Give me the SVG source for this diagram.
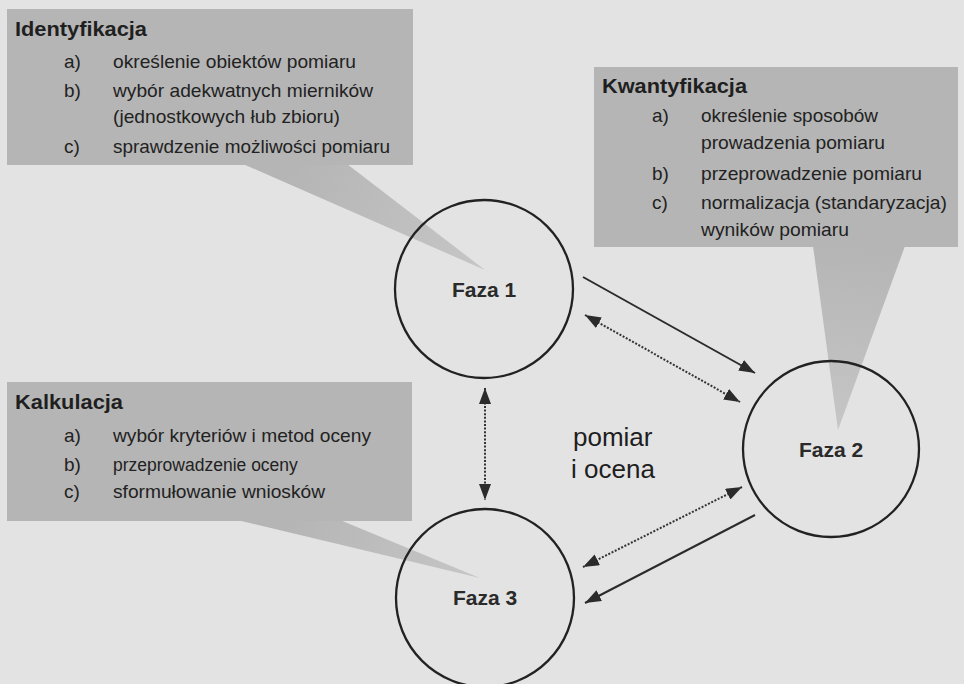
<svg xmlns="http://www.w3.org/2000/svg" width="964" height="684" viewBox="0 0 964 684">
  <defs>
    <style>
      .bg { fill: #e3e3e3; }
      .box { fill: #b5b5b5; }
      .title { font-family: "Liberation Sans", Arial, sans-serif; font-weight: bold; font-size: 21px; fill: #1f1f1f; }
      .item { font-family: "Liberation Sans", Arial, sans-serif; font-size: 19px; fill: #222; }
      .item-tight { font-size: 17.5px; }
      .phase { fill: none; stroke: #222; stroke-width: 2.3; }
      .phase-label { font-family: "Liberation Sans", Arial, sans-serif; font-weight: bold; font-size: 21px; fill: #2a2a2a; }
      .flow { fill: none; stroke: #2b2b2b; stroke-width: 2; }
      .flow-dot { fill: none; stroke: #333; stroke-width: 2; stroke-dasharray: 2 1.6; }
      .note { font-family: "Liberation Sans", Arial, sans-serif; font-size: 26px; fill: #1e1e1e; }
    </style>
    <marker id="head" viewBox="0 0 16 12" refX="16" refY="6" markerWidth="16" markerHeight="12" markerUnits="userSpaceOnUse" orient="auto-start-reverse">
      <path d="M0,0 L16,6 L0,12 Z" fill="#2b2b2b"/>
    </marker>
    <linearGradient id="tail1" gradientUnits="userSpaceOnUse" x1="295" y1="165" x2="485" y2="270">
      <stop offset="0" stop-color="#b5b5b5"/>
      <stop offset="1" stop-color="#c6c6c6"/>
    </linearGradient>
    <linearGradient id="tail2" gradientUnits="userSpaceOnUse" x1="859" y1="247" x2="838" y2="430">
      <stop offset="0" stop-color="#b5b5b5"/>
      <stop offset="1" stop-color="#c6c6c6"/>
    </linearGradient>
    <linearGradient id="tail3" gradientUnits="userSpaceOnUse" x1="288" y1="521" x2="480" y2="578">
      <stop offset="0" stop-color="#b5b5b5"/>
      <stop offset="1" stop-color="#c6c6c6"/>
    </linearGradient>
  </defs>

  <rect class="bg" x="0" y="0" width="964" height="684"/>

  <!-- callout: Identyfikacja -->
  <g id="identyfikacja">
    <polygon points="243,164 347,164 485,270" fill="url(#tail1)"/>
    <rect class="box" x="7" y="9" width="406" height="156"/>
    <text class="title" x="15" y="36" textLength="132" lengthAdjust="spacingAndGlyphs">Identyfikacja</text>
    <text class="item" x="64" y="68">a)</text>
    <text class="item" x="113" y="68" textLength="243" lengthAdjust="spacingAndGlyphs">określenie obiektów pomiaru</text>
    <text class="item" x="64" y="97">b)</text>
    <text class="item" x="113" y="97" textLength="260" lengthAdjust="spacingAndGlyphs">wybór adekwatnych mierników</text>
    <text class="item" x="113" y="123" textLength="227" lengthAdjust="spacingAndGlyphs">(jednostkowych łub zbioru)</text>
    <text class="item" x="64" y="153">c)</text>
    <text class="item" x="113" y="153" textLength="277" lengthAdjust="spacingAndGlyphs">sprawdzenie możliwości pomiaru</text>
  </g>

  <!-- callout: Kwantyfikacja -->
  <g id="kwantyfikacja">
    <polygon points="813,246 905,246 838,430" fill="url(#tail2)"/>
    <rect class="box" x="594" y="67" width="364" height="180"/>
    <text class="title" x="602" y="93" textLength="145" lengthAdjust="spacingAndGlyphs">Kwantyfikacja</text>
    <text class="item" x="652" y="122">a)</text>
    <text class="item" x="701" y="122" textLength="177" lengthAdjust="spacingAndGlyphs">określenie sposobów</text>
    <text class="item" x="701" y="149" textLength="184" lengthAdjust="spacingAndGlyphs">prowadzenia pomiaru</text>
    <text class="item" x="652" y="180">b)</text>
    <text class="item" x="701" y="180" textLength="221" lengthAdjust="spacingAndGlyphs">przeprowadzenie pomiaru</text>
    <text class="item" x="652" y="209">c)</text>
    <text class="item" x="701" y="209" textLength="246" lengthAdjust="spacingAndGlyphs">normalizacja (standaryzacja)</text>
    <text class="item" x="701" y="236" textLength="148" lengthAdjust="spacingAndGlyphs">wyników pomiaru</text>
  </g>

  <!-- callout: Kalkulacja -->
  <g id="kalkulacja">
    <polygon points="237,520 340,520 480,578" fill="url(#tail3)"/>
    <rect class="box" x="7" y="382" width="405" height="139"/>
    <text class="title" x="15" y="409" textLength="108" lengthAdjust="spacingAndGlyphs">Kalkulacja</text>
    <text class="item" x="64" y="442">a)</text>
    <text class="item" x="113" y="442" textLength="258" lengthAdjust="spacingAndGlyphs">wybór kryteriów i metod oceny</text>
    <text class="item" x="64" y="471">b)</text>
    <text class="item item-tight" x="113" y="471">przeprowadzenie oceny</text>
    <text class="item" x="64" y="498">c)</text>
    <text class="item" x="113" y="498" textLength="212" lengthAdjust="spacingAndGlyphs">sformułowanie wniosków</text>
  </g>

  <!-- phases -->
  <g id="faza1">
    <circle class="phase" cx="484" cy="289" r="89"/>
    <text class="phase-label" x="484" y="297" text-anchor="middle">Faza 1</text>
  </g>
  <g id="faza2">
    <circle class="phase" cx="831" cy="449" r="88"/>
    <text class="phase-label" x="831" y="457" text-anchor="middle">Faza 2</text>
  </g>
  <g id="faza3">
    <circle class="phase" cx="485" cy="598" r="89"/>
    <text class="phase-label" x="485" y="605" text-anchor="middle">Faza 3</text>
  </g>

  <!-- connectors -->
  <g id="connectors">
    <line class="flow" x1="583" y1="277" x2="755" y2="373" marker-end="url(#head)"/>
    <line class="flow-dot" x1="585" y1="315" x2="740" y2="402" marker-start="url(#head)" marker-end="url(#head)"/>
    <line class="flow-dot" x1="485" y1="388" x2="485" y2="500" marker-start="url(#head)" marker-end="url(#head)"/>
    <line class="flow-dot" x1="742" y1="487" x2="583" y2="567" marker-start="url(#head)" marker-end="url(#head)"/>
    <line class="flow" x1="755" y1="515" x2="585" y2="603" marker-end="url(#head)"/>
  </g>

  <g id="label-pomiar">
    <text class="note" x="573" y="446">pomiar</text>
    <text class="note" x="571" y="478">i ocena</text>
  </g>
</svg>
